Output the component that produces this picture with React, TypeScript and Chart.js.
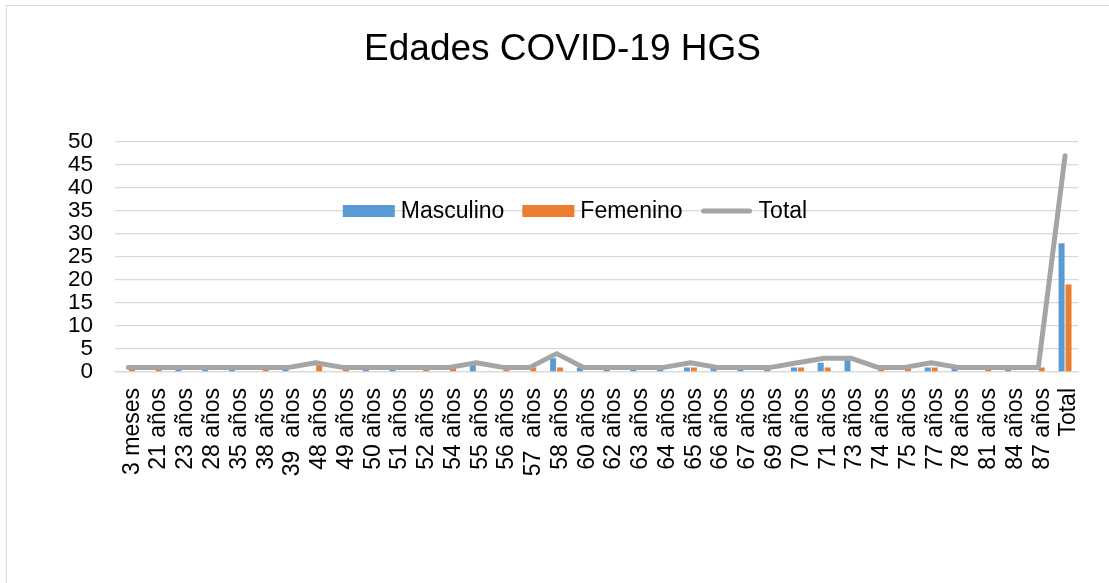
import React, { useEffect, useRef } from "react";
import { Chart, registerables } from "chart.js";

Chart.register(...registerables);

const categories = [
  "3 meses", "21 años", "23 años", "28 años", "35 años", "38 años", "39  años",
  "48 años", "49 años", "50 años", "51 años", "52 años", "54 años", "55 años",
  "56 años", "57  años", "58 años", "60 años", "62 años", "63 años", "64 años",
  "65 años", "66 años", "67 años", "69 años", "70 años", "71 años", "73 años",
  "74 años", "75 años", "77 años", "78 años", "81 años", "84 años", "87 años", "Total",
];

const masculino = [
  0, 0, 1, 1, 1, 0, 1, 0, 0, 1, 1, 0, 0, 2, 0, 0, 3, 1, 1, 1, 1, 1, 1, 1, 1, 1, 2, 3,
  0, 0, 1, 1, 0, 1, 0, 28,
];

const femenino = [
  1, 1, 0, 0, 0, 1, 0, 2, 1, 0, 0, 1, 1, 0, 1, 1, 1, 0, 0, 0, 0, 1, 0, 0, 0, 1, 1, 0,
  1, 1, 1, 0, 1, 0, 1, 19,
];

const total = [
  1, 1, 1, 1, 1, 1, 1, 2, 1, 1, 1, 1, 1, 2, 1, 1, 4, 1, 1, 1, 1, 2, 1, 1, 1, 2, 3, 3,
  1, 1, 2, 1, 1, 1, 1, 47,
];

const yTicks = [0, 5, 10, 15, 20, 25, 30, 35, 40, 45, 50];

const FONT = "'Liberation Sans', Arial, sans-serif";

const legendPlugin = {
  id: "customLegend",
  afterDraw(chart: any) {
    const ctx = chart.ctx;
    const centerX = 575;
    const y = 211;
    const boxW = 52;
    const boxH = 12;
    const textGap = 6;
    const itemGap = 18;
    ctx.save();
    ctx.font = `23px ${FONT}`;
    ctx.textBaseline = "middle";
    ctx.textAlign = "left";
    const items = chart.data.datasets.map((ds: any) => ({
      label: ds.label,
      type: ds.type || "bar",
      color: ds.type === "line" ? ds.borderColor : ds.backgroundColor,
      w: ctx.measureText(ds.label).width,
    }));
    let totalW = 0;
    items.forEach((it: any, i: number) => {
      totalW += boxW + textGap + it.w + (i < items.length - 1 ? itemGap : 0);
    });
    let x = centerX - totalW / 2;
    items.forEach((it: any) => {
      if (it.type === "line") {
        ctx.strokeStyle = it.color;
        ctx.lineWidth = 5;
        ctx.lineCap = "round";
        ctx.beginPath();
        ctx.moveTo(x + 3, y);
        ctx.lineTo(x + boxW - 3, y);
        ctx.stroke();
      } else {
        ctx.fillStyle = it.color;
        ctx.fillRect(x, y - boxH / 2, boxW, boxH);
      }
      x += boxW + textGap;
      ctx.fillStyle = "#000";
      ctx.fillText(it.label, x, y + 1);
      x += it.w + itemGap;
    });
    ctx.restore();
  },
};

export default function App() {
  const ref = useRef<HTMLCanvasElement>(null);
  useEffect(() => {
    if (!ref.current) return;
    const chart = new Chart(ref.current, {
      type: "bar",
      data: {
        labels: categories,
        datasets: [
          {
            type: "bar",
            label: "Masculino",
            data: masculino,
            backgroundColor: "#5B9BD5",
            categoryPercentage: 0.52,
            barPercentage: 0.86,
            order: 1,
          },
          {
            type: "bar",
            label: "Femenino",
            data: femenino,
            backgroundColor: "#ED7D31",
            categoryPercentage: 0.52,
            barPercentage: 0.86,
            order: 1,
          },
          {
            type: "line",
            label: "Total",
            data: total,
            borderColor: "#A5A5A5",
            backgroundColor: "#A5A5A5",
            borderWidth: 5,
            pointRadius: 0,
            tension: 0,
            borderCapStyle: "round",
            borderJoinStyle: "round",
            order: 0,
          } as any,
        ],
      },
      options: {
        responsive: false,
        animation: false,
        layout: { padding: { left: 41, right: 25, top: 0, bottom: 0 } },
        plugins: {
          legend: { display: false },
          tooltip: { enabled: false },
          title: {
            display: true,
            text: "Edades COVID-19 HGS",
            color: "#000",
            font: { family: FONT, size: 37, weight: "normal", lineHeight: 1.2 },
            padding: { top: 28, bottom: 69.6 },
          },
        },
        scales: {
          x: {
            grid: { display: false, drawTicks: false },
            border: { display: true, color: "#D9D9D9", width: 1.3 },
            ticks: {
              color: "#000",
              font: { family: FONT, size: 23 },
              maxRotation: 90,
              minRotation: 90,
              autoSkip: false,
              padding: 16,
              labelOffset: 4,
            },
            afterFit: (s: any) => {
              s.height = 211;
            },
          },
          y: {
            min: 0,
            max: 50,
            grid: { color: "#D9D9D9", lineWidth: 1.3, drawTicks: false },
            border: { display: false },
            afterBuildTicks: (s: any) => {
              s.ticks = yTicks.map((v) => ({ value: v }));
            },
            ticks: {
              color: "#000",
              font: { family: FONT, size: 22.5, lineHeight: 1 },
              padding: 22,
              autoSkip: false,
              stepSize: 5,
            },
            afterFit: (s: any) => {
              s.width = 74;
            },
          },
        },
      },
      plugins: [legendPlugin],
    });
    return () => chart.destroy();
  }, []);

  return (
    <div
      style={{
        position: "fixed",
        left: 0,
        top: 0,
        width: 1109,
        height: 583,
        overflow: "hidden",
        background: "#fff",
      }}
    >
      <div
        style={{
          position: "absolute",
          left: 6,
          top: 5,
          width: 1200,
          height: 700,
          borderLeft: "1.5px solid #D9D9D9",
          borderTop: "1.5px solid #D9D9D9",
        }}
      />
      <canvas
        ref={ref}
        width={1109}
        height={583}
        style={{ position: "absolute", left: 0, top: 0, width: 1109, height: 583 }}
      />
    </div>
  );
}
